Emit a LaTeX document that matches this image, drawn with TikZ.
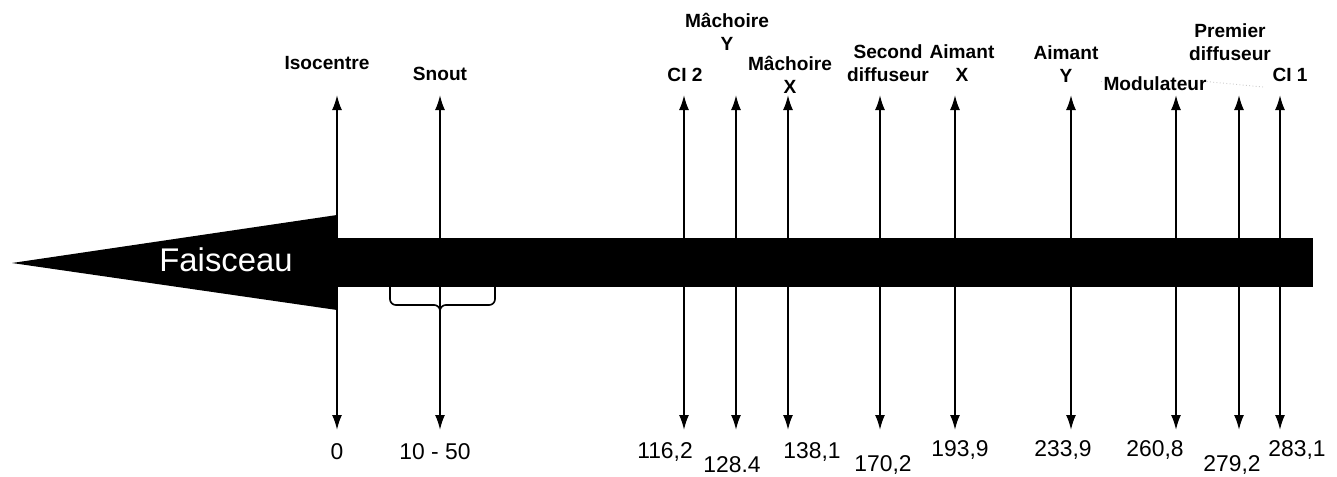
\documentclass[tikz,border=0pt]{standalone}
\usepackage{fontspec}
\setmainfont{Liberation Sans}
\usetikzlibrary{arrows.meta}

\tikzset{
  marker/.style={line width=1.6pt,{Latex[length=0.45cm,width=0.3cm]}-{Latex[length=0.45cm,width=0.3cm]}},
  lbl/.style={font=\fontsize{16.3}{19.5}\selectfont\bfseries,align=center,inner sep=0pt},
  val/.style={font=\fontsize{19.5}{22}\selectfont,inner sep=0pt},
}

\begin{document}
\begin{tikzpicture}[x=0.03cm,y=-0.03cm]
    \useasboundingbox (0,0) rectangle (1337,477);
    % faisceau
    \fill (12,263) -- (337,215) -- (337,310) -- cycle;
    \fill (337,238) rectangle (1313,287);
    \node[text=white,font=\fontsize{28}{32}\selectfont,inner sep=0pt] (faisceau) at (226,260) {Faisceau};
    % positions le long du faisceau
    \foreach \x/\n in {337/iso,440/snout,684/ci2,736/machy,788/machx,880/diff2,955/aimx,1071/aimy,1176/modul,1239/diff1,1280/ci1}
    {
    \coordinate (\n-t) at (\x,95);
    \coordinate (\n-b) at (\x,430);
    \draw[marker] (\n-t) -- (\n-b);
    }
    % accolade snout
    \draw[line width=1.4pt,rounded corners=5pt] (390,287) -- (390,305) -- (440,305) -- (440,325);
    \draw[line width=1.4pt,rounded corners=5pt] (495,287) -- (495,305) -- (440,305) -- (440,325);
    % noms
    \node[lbl] (l-iso) at (327,63) {Isocentre};
    \node[lbl] (l-snout) at (440,74) {Snout};
    \node[lbl] (l-ci2) at (685,75) {CI 2};
    \node[lbl] (l-machy) at (727,31.5) {Mâchoire\\Y};
    \node[lbl] (l-machx) at (790,75) {Mâchoire\\X};
    \node[lbl] (l-diff2) at (888,63.5) {Second\\diffuseur};
    \node[lbl] (l-aimx) at (962,63.5) {Aimant\\X};
    \node[lbl] (l-aimy) at (1066,64) {Aimant\\Y};
    \node[lbl] (l-modul) at (1155,84) {Modulateur};
    \node[lbl] (l-diff1) at (1230,42.5) {Premier\\diffuseur};
    \node[lbl] (l-ci1) at (1290,75) {CI 1};
    \draw[gray!40,dotted,thick] (l-aimy.south east) ++(2,-1) coordinate (d1) -- (l-modul.west |- d1);
    \draw[gray!40,dotted,thick] (l-modul.east |- d1) -- (1263,87);
    % distances
    \node[val] (v-iso) at (337,452) {0};
    \node[val] (v-snout) at (435,452) {10 - 50};
    \node[val] (v-ci2) at (665,452) {116,2};
    \node[val] (v-machy) at (732,465) {128.4};
    \node[val] (v-machx) at (812,452) {138,1};
    \node[val] (v-diff2) at (883,465) {170,2};
    \node[val] (v-aimx) at (960,450) {193,9};
    \node[val] (v-aimy) at (1063,450) {233,9};
    \node[val] (v-modul) at (1155,450) {260,8};
    \node[val] (v-diff1) at (1232,465) {279,2};
    \node[val] (v-ci1) at (1297,450) {283,1};
\end{tikzpicture}
\end{document}
